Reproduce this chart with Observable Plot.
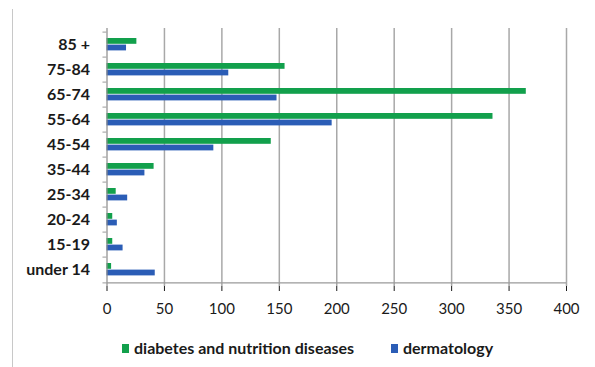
<!DOCTYPE html>
<html>
<head>
<meta charset="utf-8">
<script src="https://cdn.jsdelivr.net/npm/d3@7"></script>
<script src="https://cdn.jsdelivr.net/npm/@observablehq/plot@0.6"></script>
<style>
  html, body { margin: 0; padding: 0; background: #fff; }
  #wrap { position: relative; width: 595px; height: 367px; overflow: hidden; font-family: Lato, "Open Sans", sans-serif; }
  #border { position: absolute; left: 12px; top: 9px; width: 0; height: 358px; border-left: 1px solid #c8c8c8; }
  #chart { position: absolute; left: 0; top: 0; }
  #legend { position: absolute; top: 338px; left: 0; width: 595px; height: 20px; font-size: 16px; font-weight: bold; color: #1a1a1a; }
  .item { position: absolute; top: 0; display: flex; align-items: center; line-height: 20px; }
  .sw { width: 7px; height: 9px; margin-right: 5px; display: inline-block; }
</style>
</head>
<body>
<div id="wrap">
  <div id="border"></div>
  <div id="chart"></div>
  <div id="legend"></div>
</div>
<script>
const ageGroups = ["85 +", "75-84", "65-74", "55-64", "45-54", "35-44", "25-34", "20-24", "15-19", "under 14"];
const diabetes = [26, 155, 365, 336, 143, 41, 8, 5, 5, 4];
const dermatology = [17, 106, 148, 196, 93, 33, 18, 9, 14, 42];
const seriesNames = ["diabetes and nutrition diseases", "dermatology"];
const xTicks = [0, 50, 100, 150, 200, 250, 300, 350, 400];
const colors = ["#12a04c", "#2b5db6"];

const rowsDiabetes = ageGroups.map((g, i) => ({group: g, value: diabetes[i]}));
const rowsDerm = ageGroups.map((g, i) => ({group: g, value: dermatology[i]}));

const svgH = 325, plotTop = 28, plotBottom = 286;
const band = (plotBottom - plotTop) / ageGroups.length;

const chart = Plot.plot({
  width: 595,
  height: svgH,
  marginTop: plotTop,
  marginBottom: svgH - plotBottom,
  marginLeft: 106.5,
  marginRight: 29,
  style: {fontFamily: "Lato, 'Open Sans', sans-serif", fontSize: "15px", color: "#1a1a1a", background: "transparent"},
  x: {domain: [0, 400], ticks: xTicks, tickSize: 5, tickPadding: 12, label: null, tickFormat: d => String(d)},
  y: {domain: ageGroups, padding: 0, tickSize: 0, tickPadding: 17, label: null},
  marks: [
    Plot.ruleX(xTicks.slice(1), {stroke: "#a8a8a8", strokeWidth: 1.5}),
    Plot.barX(rowsDiabetes, {y: "group", x: "value", fill: colors[0], insetTop: 6, insetBottom: band - 12.6}),
    Plot.barX(rowsDerm, {y: "group", x: "value", fill: colors[1], insetTop: 12.6, insetBottom: band - 19.2}),
    Plot.ruleX([0], {stroke: "#8a8a8a", strokeWidth: 1.2}),
    Plot.ruleY([ageGroups[ageGroups.length - 1]], {x1: 0, x2: 400, dy: band / 2, stroke: "#9a9a9a", strokeWidth: 1.2}),
    Plot.ruleY(ageGroups, {x1: -3.5, x2: 0, dy: -band / 2, stroke: "#9a9a9a"}),
    Plot.ruleY([ageGroups[ageGroups.length - 1]], {x1: -3.5, x2: 0, dy: band / 2, stroke: "#9a9a9a"})
  ]
});
const yAxisG = chart.querySelector("[aria-label='y-axis tick label']") || chart.querySelector("[aria-label='y-axis']");
if (yAxisG) { yAxisG.setAttribute("font-weight", "bold"); yAxisG.setAttribute("font-size", "16"); }
document.getElementById("chart").appendChild(chart);

const legend = document.getElementById("legend");
const lefts = [122, 391];
seriesNames.forEach((name, i) => {
  const it = document.createElement("div");
  it.className = "item";
  it.style.left = lefts[i] + "px";
  const sw = document.createElement("span");
  sw.className = "sw";
  sw.style.background = colors[i];
  it.appendChild(sw);
  const tx = document.createElement("span");
  tx.textContent = name;
  it.appendChild(tx);
  legend.appendChild(it);
});
</script>
</body>
</html>
